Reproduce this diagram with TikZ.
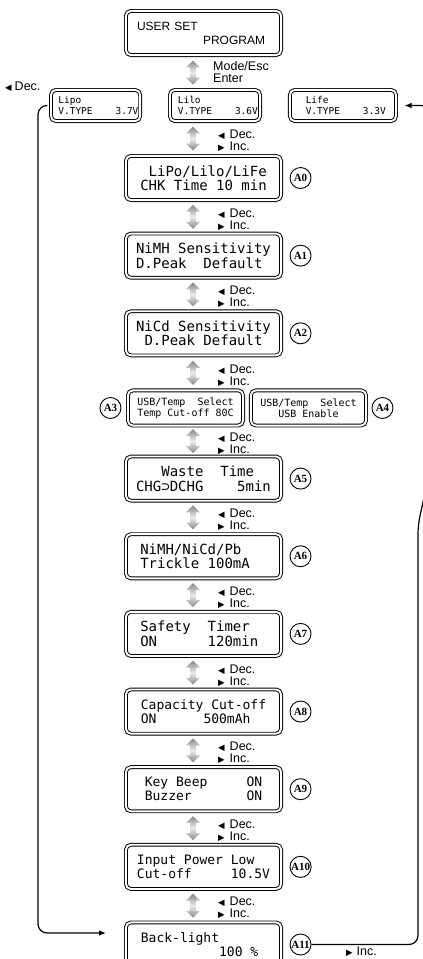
\documentclass[tikz,border=0pt]{standalone}
\usepackage{fontspec}
\setmainfont{Liberation Sans}
\newfontfamily\lcdfont{DejaVu Sans Mono}
\newfontfamily\tagfont{Liberation Serif}
\newfontfamily\trifont{DejaVu Sans}
\usetikzlibrary{positioning,arrows.meta,calc,shapes.arrows}

\newcommand{\tri}[1]{{\trifont\fontsize{8.5}{8.5}\selectfont #1}}
\newcommand{\lcdrow}[1]{\mbox{#1}}

\begin{document}
\begin{tikzpicture}[
  x=1pt, y=-1pt,
  node distance=32.5pt,
  lcd/.style={draw, double, double distance=1.9pt, line width=0.95pt, rounded corners=5pt, inner sep=0pt, minimum width=155.2pt, minimum height=44.2pt, align=left, font=\lcdfont\fontsize{14}{14.5}\selectfont},
  lcdsm/.style={lcd, minimum height=31.2pt, font=\lcdfont\fontsize{9.5}{10.5}\selectfont},
  lcdmid/.style={lcd, font=\lcdfont\fontsize{13}{14}\selectfont},
  updn/.style={double arrow, rotate=90, minimum height=24pt, inner sep=2.7pt, double arrow head extend=4pt, top color=gray!95, bottom color=gray!95, middle color=gray!15},
  keys/.style={anchor=west, align=left, inner sep=0pt, font=\fontsize{12.5}{12}\selectfont},
  tag/.style={draw, circle, line width=0.9pt, inner sep=0.3pt, minimum size=21pt, font=\tagfont\bfseries\fontsize{11}{11}\selectfont},
  back/.style={line width=1.2pt, rounded corners=9pt, -{Latex[length=7pt,width=5.5pt]}}
]
  \useasboundingbox (0,0) rectangle (423,959);

  % header and battery type row
  \node[lcd, text width=140pt, font=\fontsize{12}{14}\selectfont] (user) at (203.5,33) {\hspace*{3.5pt}USER SET\\\hspace*{69.5pt}PROGRAM};
  \node[lcdsm, minimum width=90.2pt] (Lilo) at (215,105.5) {\lcdrow{~Lilo~~~~~~~~~~}\\\lcdrow{~V.TYPE~~~~3.6V}};
  \node[lcdsm, minimum width=89.2pt, left=28.8pt of Lilo] (Lipo) {\lcdrow{~Lipo~~~~~~~~~~}\\\lcdrow{~V.TYPE~~~~3.7V}};
  \node[lcdsm, minimum width=106.2pt, right=28.8pt of Lilo] (Life) {\lcdrow{~Life~~~~~~~~~~}\\\lcdrow{~V.TYPE~~~~3.3V}};

  % settings chain
  \node[lcd] (A0) at (203.5,178) {\lcdrow{~LiPo/Lilo/LiFe}\\\lcdrow{CHK~Time~10~min}};
  \node[lcd, below=of A0] (A1) {\lcdrow{NiMH~Sensitivity}\\\lcdrow{D.Peak~~Default~}};
  \node[lcd, below=of A1] (A2) {\lcdrow{NiCd~Sensitivity}\\\lcdrow{~D.Peak~Default~}};
  \node[lcdsm, minimum width=115.2pt, minimum height=35.2pt, font=\lcdfont\fontsize{10}{11}\selectfont, below=34pt of A2, xshift=-18pt] (A3) {\lcdrow{USB/Temp~~Select}\\\lcdrow{Temp~Cut-off~80C}};
  \node[lcdsm, minimum width=115.2pt, minimum height=35.2pt, font=\lcdfont\fontsize{10}{11}\selectfont, right=6.8pt of A3] (A4) {\lcdrow{USB/Temp~~Select}\\\lcdrow{~~~USB~Enable~~~}};
  \coordinate (gapc) at (A3.south -| A2.south);
  \node[lcd, below=30pt of gapc] (A5) {\lcdrow{~~~Waste~~Time~~}\\\lcdrow{CHG⊃DCHG~~~~5min}};
  \node[lcd, below=of A5] (A6) {\lcdrow{NiMH/NiCd/Pb~~~}\\\lcdrow{Trickle~100mA~~}};
  \node[lcd, below=of A6] (A7) {\lcdrow{Safety~~Timer~~}\\\lcdrow{ON~~~~~~120min~}};
  \node[lcdmid, below=of A7] (A8) {\lcdrow{Capacity~Cut-off}\\\lcdrow{ON~~~~~~500mAh~~}};
  \node[lcdmid, below=of A8] (A9) {\lcdrow{Key~Beep~~~~~ON}\\\lcdrow{Buzzer~~~~~~~ON}};
  \node[lcdmid, below=of A9] (A10) {\lcdrow{Input~Power~Low~~}\\\lcdrow{Cut-off~~~~~10.5V}};
  \node[lcdmid, below=of A10] (A11) {\lcdrow{Back-light~~~~~~}\\\lcdrow{~~~~~~~~~~100~\%~}};

  % circled step tags
  \foreach \n in {0,1,2,5,6,7,8,9,10,11}
    \node[tag, right=8pt of A\n] (t\n) {A\n};
  \node[tag, left=6pt of A3] (t3) {A3};
  \node[tag, right=5pt of A4] (t4) {A4};

  % up/down keys between screens
  \coordinate (ax) at (193,0);
  \node[updn] (d0) at ($(user.south -| ax)!.5!(Lilo.north -| ax)$) {};
  \node[keys] (mode) at ($(d0.center)+(20,0)$) {Mode/Esc\\Enter};
  \foreach \u/\l [count=\i] in {Lilo/A0,A0/A1,A1/A2,A2/A3,A3/A5,A5/A6,A6/A7,A7/A8,A8/A9,A9/A10,A10/A11} {
    \node[updn] (d\i) at ($(\u.south -| ax)!.5!(\l.north -| ax)$) {};
    \node[keys] (k\i) at ($(d\i.center)+(25,2.5)$) {\tri{◀}\hspace{5pt}Dec.\\\tri{▶}\hspace{5pt}Inc.};
  }
  \node[keys] (decl) at (5,87) {\tri{◀}\hspace{3pt}Dec.};
  \node[keys] (incr) at (346,952) {\tri{▶}\hspace{4pt}Inc.};

  % wrap-around lines
  \coordinate (lcorner) at (38,933);
  \coordinate (backin) at (106,933);
  \draw[back] ([xshift=-3pt]Lipo.west) -| (lcorner) -- (backin);
  \coordinate (r2) at (418,525);
  \coordinate (r3) at (430,470);
  \coordinate (r4) at (430,105.5);
  \draw[back] (t11.east) -- (t11.east -| r2) -- (r2) -- (r3) -- (r4) -- ([xshift=8pt]Life.east);
\end{tikzpicture}
\end{document}
